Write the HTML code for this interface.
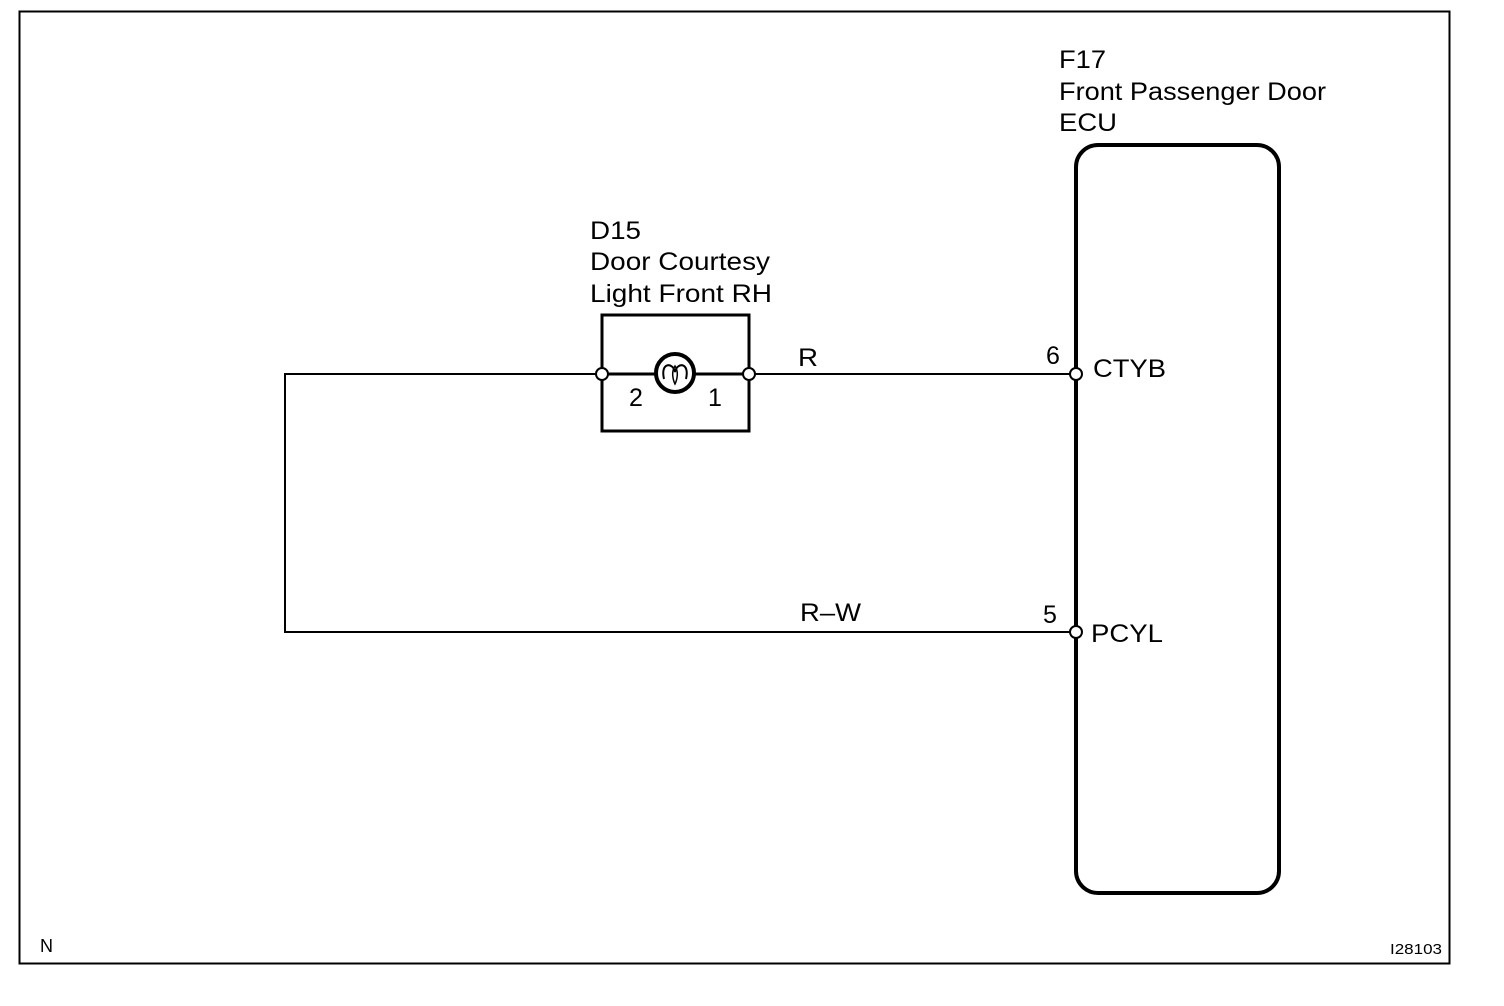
<!DOCTYPE html>
<html><head><style>body{margin:0;background:#fff}svg{display:block}text{font-family:"Liberation Sans",sans-serif;fill:#000}</style></head><body>
<svg width="1504" height="1006" viewBox="0 0 1504 1006">
<rect x="19.5" y="11.5" width="1430" height="952" fill="none" stroke="#000" stroke-width="2"/>
<rect x="1076" y="145" width="203" height="748" rx="22" fill="none" stroke="#000" stroke-width="4"/>
<polyline points="602,374 285,374 285,632 1070,632" fill="none" stroke="#000" stroke-width="2"/>
<line x1="749" y1="374" x2="1070" y2="374" stroke="#000" stroke-width="2"/>
<rect x="602" y="315" width="147" height="116" fill="none" stroke="#000" stroke-width="3"/>
<line x1="602" y1="374" x2="749" y2="374" stroke="#000" stroke-width="3"/>
<circle cx="675" cy="373" r="19" fill="#fff" stroke="#000" stroke-width="4"/>
<path d="M664,379 C660,362 673,362 675,372 C677,362 690,362 686,379" fill="none" stroke="#000" stroke-width="2"/>
<path d="M675,366 C671,372 673,380 675,384 C677,380 679,372 675,366Z" fill="none" stroke="#000" stroke-width="1.5"/>
<circle cx="602" cy="374" r="6" fill="#fff" stroke="#000" stroke-width="2"/>
<circle cx="749" cy="374" r="6" fill="#fff" stroke="#000" stroke-width="2"/>
<circle cx="1076" cy="374" r="6" fill="#fff" stroke="#000" stroke-width="2"/>
<circle cx="1076" cy="632" r="6" fill="#fff" stroke="#000" stroke-width="2"/>
<g font-size="25">
<text x="590" y="239" textLength="51" lengthAdjust="spacingAndGlyphs">D15</text>
<text x="590" y="270" textLength="180" lengthAdjust="spacingAndGlyphs">Door Courtesy</text>
<text x="590" y="302" textLength="182" lengthAdjust="spacingAndGlyphs">Light Front RH</text>
<text x="1059" y="68" textLength="47" lengthAdjust="spacingAndGlyphs">F17</text>
<text x="1059" y="100" textLength="267" lengthAdjust="spacingAndGlyphs">Front Passenger Door</text>
<text x="1059" y="131" textLength="58" lengthAdjust="spacingAndGlyphs">ECU</text>
<text x="629" y="406">2</text>
<text x="708" y="406">1</text>
<text x="798" y="366" textLength="20" lengthAdjust="spacingAndGlyphs">R</text>
<text x="800" y="621" textLength="61" lengthAdjust="spacingAndGlyphs">R–W</text>
<text x="1046" y="364">6</text>
<text x="1043" y="623">5</text>
<text x="1093" y="377" textLength="73" lengthAdjust="spacingAndGlyphs">CTYB</text>
<text x="1091" y="642" textLength="72" lengthAdjust="spacingAndGlyphs">PCYL</text>
</g>
<text x="40" y="952" font-size="18">N</text>
<text x="1390" y="954" font-size="15" textLength="52" lengthAdjust="spacingAndGlyphs">I28103</text>
</svg>
</body></html>
